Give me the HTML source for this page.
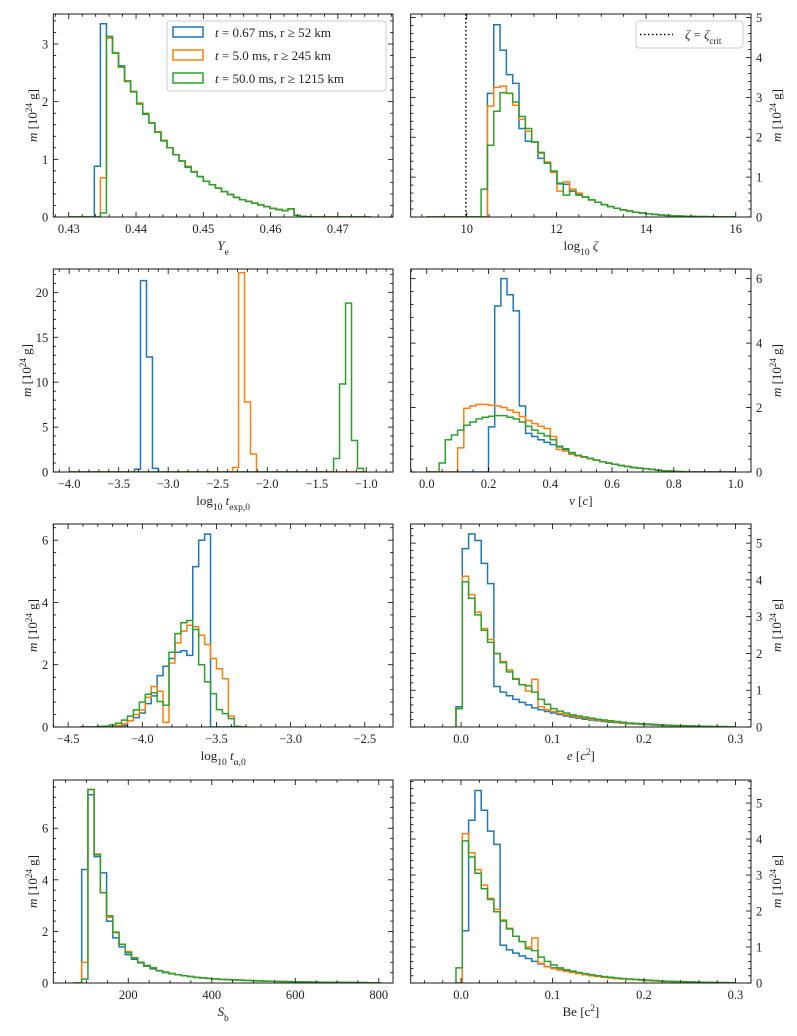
<!DOCTYPE html>
<html><head><meta charset="utf-8"><style>
body{margin:0;background:#fff}
svg{display:block;font-family:"Liberation Serif","DejaVu Serif",serif}
</style></head><body>
<svg id="fig" width="797" height="1036" viewBox="0 0 797 1036"></svg>
<script>
// ---------- data ----------
const seriesNames=["t = 0.67 ms, r ≥ 52 km","t = 5.0 ms, r ≥ 245 km","t = 50.0 ms, r ≥ 1215 km"];
// Ye
const yeBlue=[0.88,3.35,3.13,2.85,2.62,2.35,2.17,1.97,1.78,1.63,1.47,1.32,1.2,1.08,0.97,0.86,0.78,0.7,0.62,0.56,0.5,0.44,0.39,0.34,0.3,0.27,0.24,0.21,0.18,0.15,0.13,0.11,0.14,0.03,0.01,0.005];
const yeOrange=[0,0.68,3.1,2.85,2.6,2.35,2.18,1.98,1.8,1.63,1.48,1.33,1.2,1.08,0.97,0.88,0.79,0.7,0.62,0.56,0.5,0.44,0.39,0.34,0.3,0.27,0.24,0.21,0.18,0.15,0.13,0.11,0.14,0.03,0.01,0.005];
const yeGreen=[0,0.07,3.13,2.84,2.6,2.36,2.17,1.96,1.79,1.63,1.47,1.32,1.2,1.08,0.97,0.87,0.78,0.7,0.62,0.56,0.5,0.44,0.39,0.34,0.3,0.27,0.24,0.21,0.18,0.15,0.13,0.11,0.14,0.03,0.01,0.005];
// log10 zeta
const zBlue=[0,3.1,4.82,4.18,3.57,3.35,2.22,1.9,1.88,1.47,1.35,1.15,0.83,0.82,0.65,0.58,0.5,0.43,0.37,0.31,0.26,0.22,0.18,0.15,0.12,0.1,0.08,0.065,0.05,0.04,0.03,0.025,0.02,0.015,0.01,0.008,0.006,0.004,0.003,0.002];
const zOrange=[0,2.78,3.25,3.28,3.1,2.8,2.45,2.15,1.88,1.6,1.38,1.12,0.65,0.88,0.7,0.6,0.5,0.43,0.37,0.31,0.26,0.22,0.18,0.15,0.12,0.1,0.08,0.065,0.05,0.04,0.03,0.025,0.02,0.015,0.01,0.008,0.006,0.004,0.003,0.002];
const zGreen=[0.7,1.8,2.65,3.12,3.1,2.88,2.52,2.22,1.88,1.62,1.35,1.15,0.85,0.55,0.65,0.55,0.5,0.43,0.37,0.31,0.26,0.22,0.18,0.15,0.12,0.1,0.08,0.065,0.05,0.04,0.03,0.025,0.02,0.015,0.01,0.008,0.006,0.004,0.003,0.002];
const zCrit=9.98;
// log10 t_exp,0 (each series has own first-bin edge)
const texpStarts=[-3.34,-2.35,-1.33];
const texpBlue=[0.3,21.3,12.8,0.4];
const texpOrange=[0.5,22.2,7.8,2.0];
const texpGreen=[1.5,9.8,18.8,3.5,0.4];
// v
const vBlue=[0,0,0,0,0,0,0,0,0,0,1.4,5.15,6.0,5.5,5.0,2.05,1.2,1.1,1.0,0.92,0.85,0.78,0.7,0.6,0.52,0.47,0.42,0.37,0.32,0.27,0.24,0.2,0.17,0.14,0.12,0.1,0.08,0.06,0.04,0.02,0.01];
const vOrange=[0,0,0,0,0,0.75,1.98,2.05,2.1,2.1,2.07,2.05,2.0,1.92,1.85,1.72,1.6,1.5,1.42,1.35,1.1,0.7,0.65,0.55,0.5,0.46,0.42,0.37,0.32,0.28,0.24,0.2,0.17,0.14,0.12,0.1,0.08,0.06,0.04,0.03,0.02,0.01];
const vGreen=[0,0,0.28,1.0,1.15,1.3,1.45,1.55,1.65,1.7,1.73,1.75,1.75,1.7,1.65,1.55,1.42,1.3,1.2,1.12,1.0,0.8,0.72,0.6,0.52,0.47,0.42,0.37,0.32,0.28,0.24,0.2,0.17,0.14,0.12,0.1,0.08,0.06,0.04,0.03,0.02,0.01];
// log10 t_alpha,0
const taBlue=[0,0,0,0,0.05,0.2,0.3,0.45,0.75,1.0,1.65,1.95,2.2,2.4,2.45,2.3,5.15,6.0,6.2];
const taOrange=[0,0,0,0.05,0.1,0.2,0.4,0.55,0.95,1.3,1.15,0.15,2.05,2.7,3.08,3.27,3.22,2.95,2.65,2.2,1.87,1.55,0.35];
const taGreen=[0.02,0.03,0.07,0.12,0.22,0.35,0.55,0.8,1.05,1.1,0.82,0.7,2.4,3.0,3.35,3.42,3.13,2.0,1.45,1.07,0.56,0.43,0.27,0.02];
// e
const eBlue=[0.55,4.85,5.25,5.07,4.45,3.9,1.1,0.95,0.85,0.75,0.67,0.6,0.52,0.47,0.42,0.38,0.34,0.3,0.27,0.24,0.21,0.19,0.17,0.15,0.13,0.12,0.1,0.09,0.08,0.07,0.06,0.05,0.045,0.04,0.035,0.03,0.025,0.02,0.02,0.015,0.01,0.01,0.01,0.005];
const eOrange=[0.5,4.1,3.6,3.12,2.68,2.38,2.0,1.78,1.55,1.32,1.15,0.98,1.3,0.55,0.47,0.42,0.37,0.33,0.3,0.27,0.24,0.21,0.19,0.17,0.15,0.13,0.11,0.1,0.09,0.08,0.07,0.06,0.05,0.045,0.04,0.035,0.03,0.025,0.02,0.015,0.01,0.01,0.01,0.005];
const eGreen=[0.5,3.95,3.5,3.05,2.63,2.3,2.0,1.75,1.5,1.3,1.15,1.12,0.95,0.75,0.62,0.5,0.43,0.38,0.33,0.3,0.27,0.24,0.21,0.19,0.17,0.15,0.13,0.11,0.1,0.09,0.08,0.07,0.06,0.05,0.045,0.04,0.035,0.03,0.025,0.02,0.015,0.01,0.01,0.005];
// S_b
const sBlue=[4.4,7.3,4.9,4.27,2.4,1.75,1.4,1.1,0.92,0.78,0.65,0.55,0.47,0.4,0.36,0.32,0.28,0.25,0.22,0.2,0.18,0.16,0.14,0.13,0.12,0.11,0.1,0.09,0.08,0.075,0.07,0.065,0.06,0.055,0.05,0.045,0.04,0.035,0.03,0.03,0.025,0.025,0.02,0.02,0.015,0.015,0.01,0.01];
const sOrange=[0.8,7.5,5.0,3.5,2.55,1.95,1.5,1.22,0.98,0.8,0.68,0.6,0.48,0.42,0.37,0.32,0.28,0.25,0.22,0.2,0.18,0.16,0.14,0.13,0.12,0.11,0.1,0.09,0.08,0.075,0.07,0.065,0.06,0.055,0.05,0.045,0.04,0.035,0.03,0.03,0.025,0.025,0.02,0.02,0.015,0.015,0.01,0.01];
const sGreen=[0.15,7.5,4.97,3.5,2.6,1.97,1.5,1.18,0.97,0.8,0.68,0.58,0.48,0.42,0.37,0.32,0.28,0.25,0.22,0.2,0.18,0.16,0.14,0.13,0.12,0.11,0.1,0.09,0.08,0.075,0.07,0.065,0.06,0.055,0.05,0.045,0.04,0.035,0.03,0.03,0.025,0.025,0.02,0.02,0.015,0.015,0.01,0.01];
// Be
const beBlue=[0,1.45,4.52,5.35,4.8,4.22,3.85,1.05,0.92,0.83,0.75,0.68,0.6,0.53,0.46,0.42,0.38,0.34,0.3,0.27,0.24,0.21,0.19,0.17,0.15,0.13,0.12,0.1,0.09,0.08,0.07,0.06,0.05,0.045,0.04,0.035,0.03,0.025,0.02,0.02,0.015,0.01,0.01,0.01];
const beOrange=[0,4.15,3.62,3.15,2.72,2.35,2.05,1.75,1.52,1.3,1.15,1.0,1.25,0.55,0.45,0.4,0.36,0.32,0.29,0.26,0.23,0.2,0.18,0.16,0.14,0.12,0.11,0.1,0.09,0.08,0.07,0.06,0.05,0.045,0.04,0.035,0.03,0.025,0.02,0.015,0.01,0.01,0.01,0.005];
const beGreen=[0.42,3.95,3.5,3.05,2.62,2.32,1.98,1.72,1.5,1.3,1.15,0.95,0.9,0.72,0.6,0.5,0.42,0.37,0.33,0.29,0.26,0.23,0.2,0.18,0.16,0.14,0.12,0.11,0.1,0.09,0.08,0.07,0.06,0.05,0.045,0.04,0.035,0.03,0.025,0.02,0.015,0.01,0.01,0.005];

// ---------- drawing ----------
const NS="http://www.w3.org/2000/svg";
const svg=document.getElementById("fig");
const COLORS=["#1f77b4","#ff7f0e","#2ca02c"];
function mk(tag,attrs,parent){const e=document.createElementNS(NS,tag);for(const k in attrs)e.setAttribute(k,attrs[k]);(parent||svg).appendChild(e);return e;}
function fmt(v,dec){const s=Math.abs(v).toFixed(dec);return (v<-1e-9?"\u2212":"")+s;}

function panel(c){
  const g=mk("g",{});
  
  
  const sx=v=>c.px[0]+(v-c.xl[0])/(c.xl[1]-c.xl[0])*(c.px[1]-c.px[0]);
  const sy=v=>c.py[1]-(v-0)/(c.yl[1]-0)*(c.py[1]-c.py[0]);
  const clipId="clip-"+c.name;
  const cp=mk("clipPath",{id:clipId},g);
  mk("rect",{x:c.px[0],y:c.py[0],width:c.px[1]-c.px[0],height:c.py[1]-c.py[0]},cp);
  const hg=mk("g",{"clip-path":`url(#${clipId})`},g);
  c.series.forEach((vals,si)=>{
    const st=Array.isArray(c.start)?c.start[si]:c.start;
    const end=st+vals.length*c.w;
    let d=`M${sx(Math.min(c.range[0],st))},${sy(0)} L${sx(st)},${sy(0)}`;
    vals.forEach((v,i)=>{const x0=st+i*c.w,x1=x0+c.w;d+=` L${sx(x0)},${sy(v)} L${sx(x1)},${sy(v)}`;});
    d+=` L${sx(end)},${sy(0)} L${sx(Math.max(c.range[1],end))},${sy(0)}`;
    const p=mk("path",{d:d,fill:"none",stroke:COLORS[si],"stroke-width":1.5,"stroke-linejoin":"miter"},hg);
    
    
  });
  if(c.vline!==undefined){
    const l=mk("line",{x1:sx(c.vline),x2:sx(c.vline),y1:c.py[0],y2:c.py[1],stroke:"#000","stroke-width":1.5,"stroke-dasharray":"1.5,2.5"},hg);
    
    
  }
  const fr=mk("rect",{x:c.px[0],y:c.py[0],width:c.px[1]-c.px[0],height:c.py[1]-c.py[0],fill:"none",stroke:"#000","stroke-width":0.9},g);
  
  
  const tg=mk("g",{stroke:"#000","stroke-width":0.8},g);
  const eps=1e-9;
  for(let v=Math.ceil((c.xl[0]-eps)/c.xmin)*c.xmin;v<=c.xl[1]+eps;v+=c.xmin){
    const isMaj=Math.abs(v/c.xmaj-Math.round(v/c.xmaj))<1e-6;const L=isMaj?5:2.8;const x=sx(v);
    mk("line",{x1:x,x2:x,y1:c.py[1],y2:c.py[1]-L},tg);mk("line",{x1:x,x2:x,y1:c.py[0],y2:c.py[0]+L},tg);
  }
  for(let v=Math.ceil((c.xl[0]-eps)/c.xmaj)*c.xmaj;v<=c.xl[1]+eps;v+=c.xmaj){
    const t=mk("text",{x:sx(v),y:c.py[1]+16,"text-anchor":"middle","font-size":12.5,fill:"#222"},g);
    t.textContent=fmt(Math.round(v/c.xmaj)*c.xmaj,c.xdec);
    
    
  }
  for(let v=0;v<=c.yl[1]+eps;v+=c.ymin){
    const isMaj=Math.abs(v/c.ymaj-Math.round(v/c.ymaj))<1e-6;const L=isMaj?5:2.8;const y=sy(v);
    mk("line",{x1:c.px[0],x2:c.px[0]+L,y1:y,y2:y},tg);mk("line",{x1:c.px[1],x2:c.px[1]-L,y1:y,y2:y},tg);
  }
  for(let v=0;v<=c.yl[1]+eps;v+=c.ymaj){
    const right=c.side==="right";
    const t=mk("text",{x:right?c.px[1]+5:c.px[0]-5,y:sy(v)+4.5,"text-anchor":right?"start":"end","font-size":12.5,fill:"#222"},g);
    t.textContent=String(Math.round(v));
    
    
  }
  const xl=mk("text",{x:(c.px[0]+c.px[1])/2,y:c.py[1]+33,"text-anchor":"middle","font-size":13,fill:"#222"},g);
  xl.innerHTML=c.xlabel;
  
  
  const yx=c.side==="right"?777:(c.ylabX||33),yc=(c.py[0]+c.py[1])/2;
  const yl=mk("text",{x:yx,y:yc,"text-anchor":"middle","font-size":13,fill:"#222",transform:`rotate(-90 ${yx} ${yc})`,dy:4},g);
  yl.innerHTML='<tspan font-style="italic">m</tspan> [10<tspan baseline-shift="super" font-size="9">24</tspan> g]';
  
  
}
const sub=s=>`<tspan baseline-shift="sub" font-size="9.5">${s}</tspan>`;
const L=[53.3,393],R=[410.7,751];
const rows=[[14,217],[269,472],[524,727],[780,983]];
panel({name:"ye-panel",px:L,py:rows[0],xl:[0.4277,0.4782],yl:[0,3.52],xmaj:0.01,xmin:0.002,xdec:2,ymaj:1,ymin:0.2,side:"left",
  start:0.4338,w:0.0009,range:[0.43,0.475],series:[yeBlue,yeOrange,yeGreen],xlabel:'<tspan font-style="italic">Y</tspan>'+sub("e")});
panel({name:"zeta-panel",px:R,py:rows[0],xl:[8.75,16.34],yl:[0,5.09],xmaj:2,xmin:0.5,xdec:0,ymaj:1,ymin:0.2,side:"right",
  start:10.32,w:0.141,range:[9.1,16],series:[zBlue,zOrange,zGreen],vline:zCrit,xlabel:'log'+sub("10")+' <tspan font-style="italic">ζ</tspan>'});
panel({name:"texp-panel",px:L,py:rows[1],xl:[-4.16,-0.73],yl:[0,22.6],xmaj:0.5,xmin:0.1,xdec:1,ymaj:5,ymin:1,side:"left",ylabX:27,
  start:texpStarts,w:0.0604,range:[-4.0,-1.0],series:[texpBlue,texpOrange,texpGreen],xlabel:'log'+sub("10")+' <tspan font-style="italic">t</tspan>'+sub("exp,0")});
panel({name:"velocity-panel",px:R,py:rows[1],xl:[-0.052,1.05],yl:[0,6.3],xmaj:0.2,xmin:0.05,xdec:1,ymaj:2,ymin:0.4,side:"right",
  start:0,w:0.02,range:[0,1],series:[vBlue,vOrange,vGreen],xlabel:'<tspan font-style="italic">v</tspan> [<tspan font-style="italic">c</tspan>]'});
panel({name:"talpha-panel",px:L,py:rows[2],xl:[-4.60,-2.31],yl:[0,6.52],xmaj:0.5,xmin:0.1,xdec:1,ymaj:2,ymin:0.4,side:"left",
  start:-4.30,w:0.04,range:[-4.42,-3.30],series:[taBlue,taOrange,taGreen],xlabel:'log'+sub("10")+' <tspan font-style="italic">t</tspan>'+sub("α,0")});
panel({name:"energy-panel",px:R,py:rows[2],xl:[-0.055,0.317],yl:[0,5.52],xmaj:0.1,xmin:0.02,xdec:1,ymaj:1,ymin:0.2,side:"right",
  start:-0.0055,w:0.0069,range:[-0.0055,0.3],series:[eBlue,eOrange,eGreen],xlabel:'<tspan font-style="italic">e</tspan> [<tspan font-style="italic">c</tspan><tspan baseline-shift="super" font-size="9">2</tspan>]'});
panel({name:"entropy-panel",px:L,py:rows[3],xl:[20.5,834],yl:[0,7.87],xmaj:200,xmin:50,xdec:0,ymaj:2,ymin:0.4,side:"left",
  start:88.5,w:14.9,range:[68,800],series:[sBlue,sOrange,sGreen],xlabel:'<tspan font-style="italic">S</tspan>'+sub("b")});
panel({name:"bernoulli-panel",px:R,py:rows[3],xl:[-0.055,0.317],yl:[0,5.64],xmaj:0.1,xmin:0.02,xdec:1,ymaj:1,ymin:0.2,side:"right",
  start:-0.0055,w:0.0069,range:[-0.0055,0.3],series:[beBlue,beOrange,beGreen],xlabel:'Be [c<tspan baseline-shift="super" font-size="9">2</tspan>]'});

const lg=mk("g",{});


mk("rect",{x:167,y:21,width:219,height:70,rx:3,fill:"#fff","fill-opacity":0.85,stroke:"#ccc","stroke-width":1},lg);
seriesNames.forEach((n,i)=>{
  const y=27+i*23;
  const r=mk("rect",{x:173,y:y,width:30,height:10,fill:"none",stroke:COLORS[i],"stroke-width":1.5},lg);
  
  
  const t=mk("text",{x:215,y:y+10,"font-size":13,fill:"#222"},lg);
  const parts=n.split(", ");
  t.innerHTML='<tspan font-style="italic">t</tspan>'+parts[0].slice(1)+', '+parts[1];
  
  
});
const lg2=mk("g",{});


mk("rect",{x:636,y:21,width:107,height:27,rx:3,fill:"#fff","fill-opacity":0.85,stroke:"#ccc","stroke-width":1},lg2);
mk("line",{x1:640,x2:673,y1:34.5,y2:34.5,stroke:"#000","stroke-width":1.5,"stroke-dasharray":"1.5,2.5"},lg2);
const lt=mk("text",{x:685,y:39,"font-size":13,fill:"#222"},lg2);
lt.innerHTML='<tspan font-style="italic">ζ</tspan> = <tspan font-style="italic">ζ</tspan><tspan baseline-shift="sub" font-size="9">crit</tspan>';


</script>
</body></html>
